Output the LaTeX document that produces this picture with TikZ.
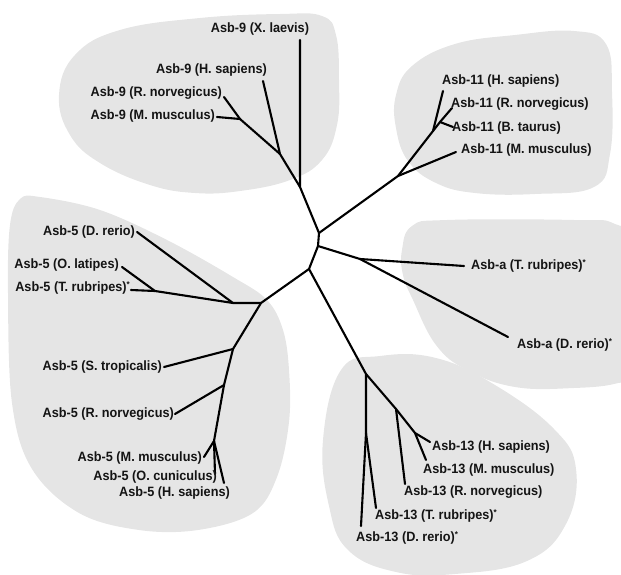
\documentclass[tikz,border=0pt]{standalone}
\usepackage{fontspec}
\newfontfamily\labfont{Liberation Sans}[FakeStretch=0.94]
\newcommand{\smallstar}{\raisebox{3.5pt}{\fontsize{8.5}{8.5}\selectfont*}}
\begin{document}
\begin{tikzpicture}[x=1pt,y=-1pt,
  lab/.style={font=\labfont\bfseries\fontsize{13.5}{15}\selectfont, inner sep=0pt, text=black!92},
  blob/.style={fill=gray!20, draw=none},
  br/.style={draw=black, line width=2.1pt, line join=round, line cap=round}]
\useasboundingbox (0,0) rectangle (621,575);
\clip (0,0) rectangle (621,575);
% ---- shaded clades
\fill[blob] plot[smooth cycle, tension=0.7] coordinates {(59,95) (75,55) (120,30) (200,18) (280,14) (322,16) (336,35) (339,80) (337,125) (322,160) (290,180) (240,191) (195,193) (150,185) (100,163) (70,135)};
\fill[blob] plot[smooth cycle, tension=0.7] coordinates {(396,95) (412,66) (455,44) (515,35) (574,31) (606,44) (612,92) (610,154) (594,187) (535,194) (475,193) (436,183) (408,161) (396,128)};
\fill[blob] plot[smooth cycle, tension=0.7] coordinates {(402,250) (412,226) (447,220) (574,220) (615,224) (640,250) (640,370) (618,383) (574,388) (515,387) (467,370) (436,345) (413,300) (403,275)};
\fill[blob] plot[smooth cycle, tension=0.7] coordinates {(323,440) (341,370) (380,356) (436,358) (495,385) (554,429) (576,469) (566,524) (527,561) (455,574) (396,572) (348,550) (329,506)};
\fill[blob] plot[smooth cycle, tension=0.6] coordinates {(20,199) (40,197) (100,210) (167,240) (233,277) (267,300) (283,330) (289,370) (289,422) (277,477) (253,513) (198,530) (139,530) (79,513) (32,469) (12,403) (8,293) (10,225)};
% ---- internal nodes
\coordinate (rA) at (319,233);
\coordinate (rB) at (318,246);
\coordinate (rC) at (309,269);
\coordinate (n9a) at (300,187);
\coordinate (n9b) at (280,154);
\coordinate (n9c) at (240,119);
\coordinate (n11a) at (398,176);
\coordinate (n11b) at (433,131);
\coordinate (n11c) at (440,122);
\coordinate (na) at (360,259);
\coordinate (n5a) at (261,303);
\coordinate (n5b) at (233,303);
\coordinate (n5c) at (155,291);
\coordinate (n5d) at (233,349);
\coordinate (n5e) at (224,385);
\coordinate (n5f) at (214,441);
\coordinate (n13a) at (366,374);
\coordinate (n13b) at (366,433);
\coordinate (n13c) at (396,409);
\coordinate (n13d) at (415,433);
% ---- leaf ends
\coordinate (e9xl) at (300,40);
\coordinate (e9hs) at (263,81);
\coordinate (e9rn) at (224,97);
\coordinate (e9mm) at (217,117);
\coordinate (e11hs) at (443,91);
\coordinate (e11rn) at (452,108);
\coordinate (e11bt) at (453,127);
\coordinate (e11mm) at (456,152);
\coordinate (eatr) at (464,266);
\coordinate (eadr) at (508,337);
\coordinate (e5dr) at (137,232);
\coordinate (e5ol) at (122,267);
\coordinate (e5tr) at (131,290);
\coordinate (e5st) at (164,367);
\coordinate (e5rn) at (175,414);
\coordinate (e5mm) at (204,457);
\coordinate (e5oc) at (215,474);
\coordinate (e5hs) at (224,483);
\coordinate (e13hs) at (430,442);
\coordinate (e13mm) at (426,460);
\coordinate (e13rn) at (405,484);
\coordinate (e13tr) at (376,508);
\coordinate (e13dr) at (361,526);
% ---- branches
\draw[br] (rA) -- (rB) -- (rC);
\draw[br] (rA) -- (n9a) -- (e9xl);
\draw[br] (n9a) -- (n9b) -- (e9hs);
\draw[br] (n9b) -- (n9c) -- (e9rn);
\draw[br] (n9c) -- (e9mm);
\draw[br] (rA) -- (n11a) -- (n11b) -- (e11hs);
\draw[br] (n11a) -- (e11mm);
\draw[br] (n11b) -- (n11c) -- (e11rn);
\draw[br] (n11c) -- (e11bt);
\draw[br] (rB) -- (na) -- (eatr);
\draw[br] (na) -- (eadr);
\draw[br] (rC) -- (n5a) -- (n5b) -- (e5dr);
\draw[br] (n5b) -- (n5c) -- (e5tr);
\draw[br] (n5c) -- (e5ol);
\draw[br] (n5a) -- (n5d) -- (e5st);
\draw[br] (n5d) -- (n5e) -- (e5rn);
\draw[br] (n5e) -- (n5f) -- (e5mm);
\draw[br] (n5f) -- (e5oc);
\draw[br] (n5f) -- (e5hs);
\draw[br] (rC) -- (n13a) -- (n13b) -- (e13dr);
\draw[br] (n13b) -- (e13tr);
\draw[br] (n13a) -- (n13c) -- (e13rn);
\draw[br] (n13c) -- (n13d) -- (e13hs);
\draw[br] (n13d) -- (e13mm);
% ---- labels
\node[lab, anchor=center] (l9xl) at (260,29) {Asb-9 (X. laevis)};
\node[lab, anchor=east] (l9hs) at (267,70) {Asb-9 (H. sapiens)};
\node[lab, anchor=east] (l9rn) at (222,93) {Asb-9 (R. norvegicus)};
\node[lab, anchor=east] (l9mm) at (215,116) {Asb-9 (M. musculus)};
\node[lab, anchor=west] (l11hs) at (442,81) {Asb-11 (H. sapiens)};
\node[lab, anchor=west] (l11rn) at (451,104) {Asb-11 (R. norvegicus)};
\node[lab, anchor=west] (l11bt) at (452,128) {Asb-11 (B. taurus)};
\node[lab, anchor=west] (l11mm) at (461,150) {Asb-11 (M. musculus)};
\node[lab, anchor=west] (latr) at (471,266) {Asb-a (T. rubripes)\smallstar};
\node[lab, anchor=west] (ladr) at (517,345) {Asb-a (D. rerio)\smallstar};
\node[lab, anchor=east] (l5dr) at (135,232) {Asb-5 (D. rerio)};
\node[lab, anchor=east] (l5ol) at (119,265) {Asb-5 (O. latipes)};
\node[lab, anchor=east] (l5tr) at (130,288) {Asb-5 (T. rubripes)\smallstar};
\node[lab, anchor=east] (l5st) at (162,367) {Asb-5 (S. tropicalis)};
\node[lab, anchor=east] (l5rn) at (174,414) {Asb-5 (R. norvegicus)};
\node[lab, anchor=east] (l5mm) at (202,458) {Asb-5 (M. musculus)};
\node[lab, anchor=east] (l5oc) at (217,477) {Asb-5 (O. cuniculus)};
\node[lab, anchor=east] (l5hs) at (230,493) {Asb-5 (H. sapiens)};
\node[lab, anchor=west] (l13hs) at (432,447) {Asb-13 (H. sapiens)};
\node[lab, anchor=west] (l13mm) at (423,470) {Asb-13 (M. musculus)};
\node[lab, anchor=west] (l13rn) at (404,492) {Asb-13 (R. norvegicus)};
\node[lab, anchor=west] (l13tr) at (375,516) {Asb-13 (T. rubripes)\smallstar};
\node[lab, anchor=west] (l13dr) at (356,538) {Asb-13 (D. rerio)\smallstar};
\end{tikzpicture}
\end{document}
